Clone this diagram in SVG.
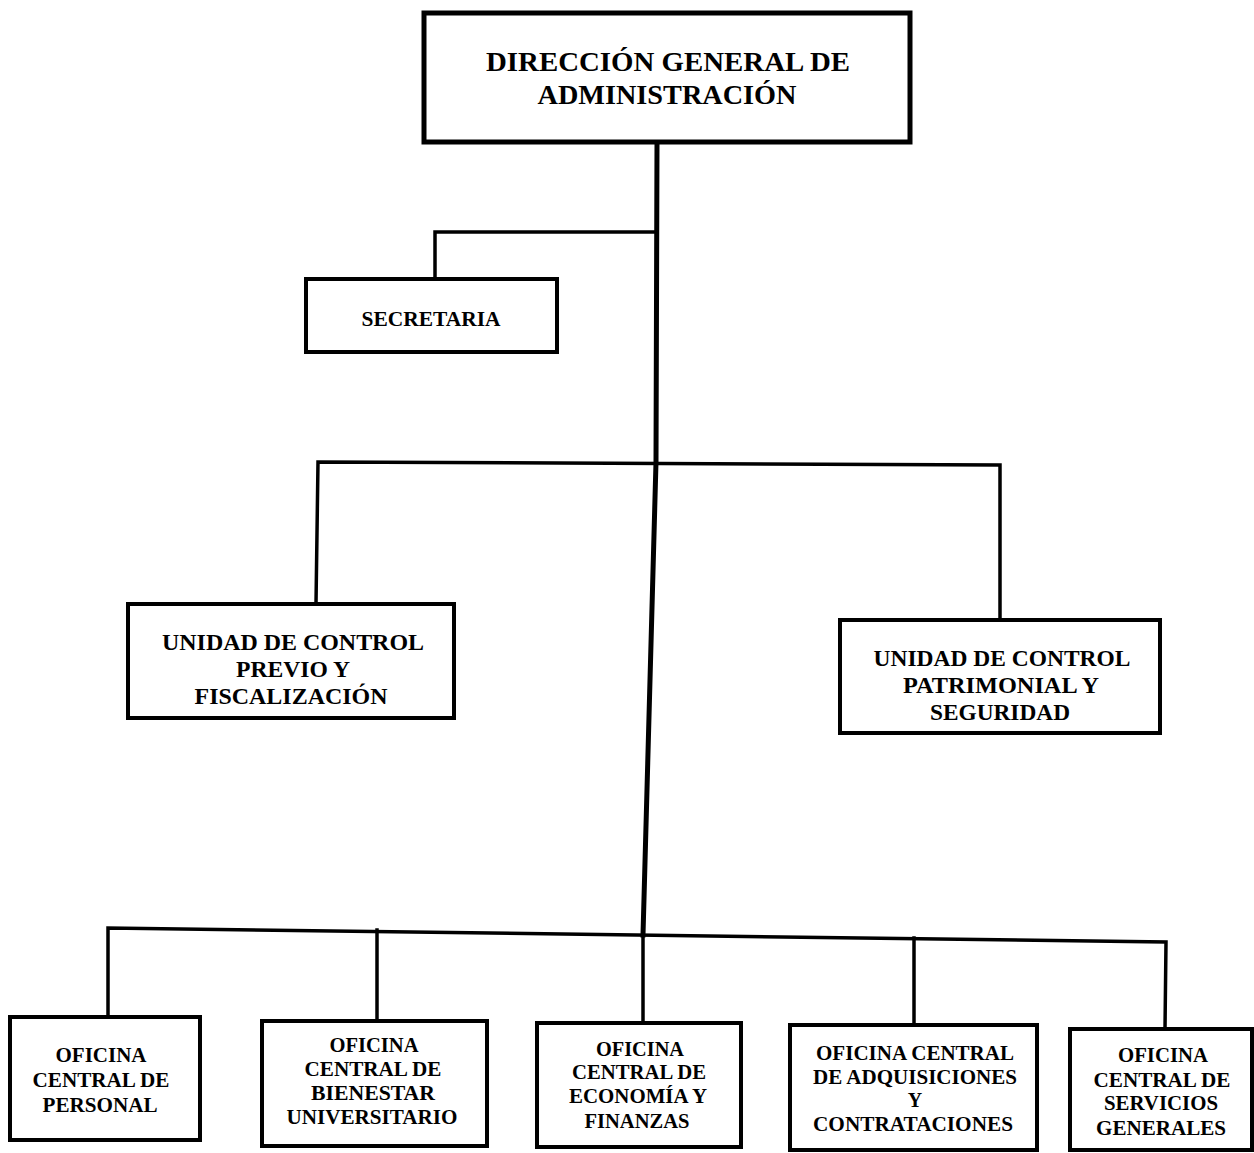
<svg xmlns="http://www.w3.org/2000/svg" width="1254" height="1153" viewBox="0 0 1254 1153">
<style>
.box{fill:#fff;stroke:#000;stroke-width:4}
.top{stroke-width:5}
.c{fill:none;stroke:#000;stroke-width:3.5;stroke-linecap:square}
.trunk{stroke-width:5;stroke-linejoin:round}
text{font-family:"Liberation Serif","Times New Roman",serif;font-weight:bold;fill:#000;text-anchor:middle}
.t1{font-size:28px}
.t2{font-size:20px}
.t3{font-size:23px}
.t4{font-size:20px}
</style>
<rect width="1254" height="1153" fill="#fff"/>
<g id="connectors">
<path class="c trunk" d="M657 142 L656 462 L643 935"/>
<path class="c" d="M435 277 L435 232 L656 232"/>
<path class="c" d="M316 604 L318 462 L1000 465 L1000 620"/>
<path class="c" d="M108 1016 L108 928 L1166 942 L1165 1029"/>
<path class="c" d="M377 930 L377 1020"/>
<path class="c" d="M914 938 L914 1025"/>
<path class="c" d="M643 935 L643 1022"/>
</g>
<g id="n_direccion">
<rect class="box top" x="424" y="13" width="486" height="129"/>
<text class="t1" x="668" y="71" textLength="364" lengthAdjust="spacingAndGlyphs">DIRECCIÓN GENERAL DE</text>
<text class="t1" x="667" y="104" textLength="259" lengthAdjust="spacingAndGlyphs">ADMINISTRACIÓN</text>
</g>
<g id="n_secretaria">
<rect class="box" x="306" y="279" width="251" height="73"/>
<text class="t2" x="431" y="326" textLength="139" lengthAdjust="spacingAndGlyphs">SECRETARIA</text>
</g>
<g id="n_previo">
<rect class="box" x="128" y="604" width="326" height="114"/>
<text class="t3" x="293" y="650" textLength="262" lengthAdjust="spacingAndGlyphs">UNIDAD DE CONTROL</text>
<text class="t3" x="293" y="677" textLength="114" lengthAdjust="spacingAndGlyphs">PREVIO Y</text>
<text class="t3" x="291" y="704" textLength="193" lengthAdjust="spacingAndGlyphs">FISCALIZACIÓN</text>
</g>
<g id="n_patrimonial">
<rect class="box" x="840" y="620" width="320" height="113"/>
<text class="t3" x="1002" y="666" textLength="257" lengthAdjust="spacingAndGlyphs">UNIDAD DE CONTROL</text>
<text class="t3" x="1001" y="693" textLength="196" lengthAdjust="spacingAndGlyphs">PATRIMONIAL Y</text>
<text class="t3" x="1000" y="720" textLength="140" lengthAdjust="spacingAndGlyphs">SEGURIDAD</text>
</g>
<g id="n_personal">
<rect class="box" x="10" y="1017" width="190" height="123"/>
<text class="t4" x="101" y="1062" textLength="91" lengthAdjust="spacingAndGlyphs">OFICINA</text>
<text class="t4" x="101" y="1087" textLength="137" lengthAdjust="spacingAndGlyphs">CENTRAL DE</text>
<text class="t4" x="100" y="1112" textLength="115" lengthAdjust="spacingAndGlyphs">PERSONAL</text>
</g>
<g id="n_bienestar">
<rect class="box" x="262" y="1021" width="225" height="125"/>
<text class="t4" x="374" y="1052" textLength="89" lengthAdjust="spacingAndGlyphs">OFICINA</text>
<text class="t4" x="373" y="1076" textLength="137" lengthAdjust="spacingAndGlyphs">CENTRAL DE</text>
<text class="t4" x="373" y="1100" textLength="124" lengthAdjust="spacingAndGlyphs">BIENESTAR</text>
<text class="t4" x="372" y="1124" textLength="171" lengthAdjust="spacingAndGlyphs">UNIVERSITARIO</text>
</g>
<g id="n_economia">
<rect class="box" x="537" y="1023" width="204" height="124"/>
<text class="t4" x="640" y="1056" textLength="88" lengthAdjust="spacingAndGlyphs">OFICINA</text>
<text class="t4" x="639" y="1079" textLength="134" lengthAdjust="spacingAndGlyphs">CENTRAL DE</text>
<text class="t4" x="638" y="1103" textLength="138" lengthAdjust="spacingAndGlyphs">ECONOMÍA Y</text>
<text class="t4" x="637" y="1128" textLength="105" lengthAdjust="spacingAndGlyphs">FINANZAS</text>
</g>
<g id="n_adquisiciones">
<rect class="box" x="790" y="1025" width="247" height="125"/>
<text class="t4" x="915" y="1060" textLength="198" lengthAdjust="spacingAndGlyphs">OFICINA CENTRAL</text>
<text class="t4" x="915" y="1084" textLength="204" lengthAdjust="spacingAndGlyphs">DE ADQUISICIONES</text>
<text class="t4" x="915" y="1107">Y</text>
<text class="t4" x="913" y="1131" textLength="200" lengthAdjust="spacingAndGlyphs">CONTRATACIONES</text>
</g>
<g id="n_servicios">
<rect class="box" x="1070" y="1029" width="182" height="121"/>
<text class="t4" x="1163" y="1062" textLength="90" lengthAdjust="spacingAndGlyphs">OFICINA</text>
<text class="t4" x="1162" y="1087" textLength="137" lengthAdjust="spacingAndGlyphs">CENTRAL DE</text>
<text class="t4" x="1161" y="1110" textLength="114" lengthAdjust="spacingAndGlyphs">SERVICIOS</text>
<text class="t4" x="1161" y="1135" textLength="130" lengthAdjust="spacingAndGlyphs">GENERALES</text>
</g>
</svg>
